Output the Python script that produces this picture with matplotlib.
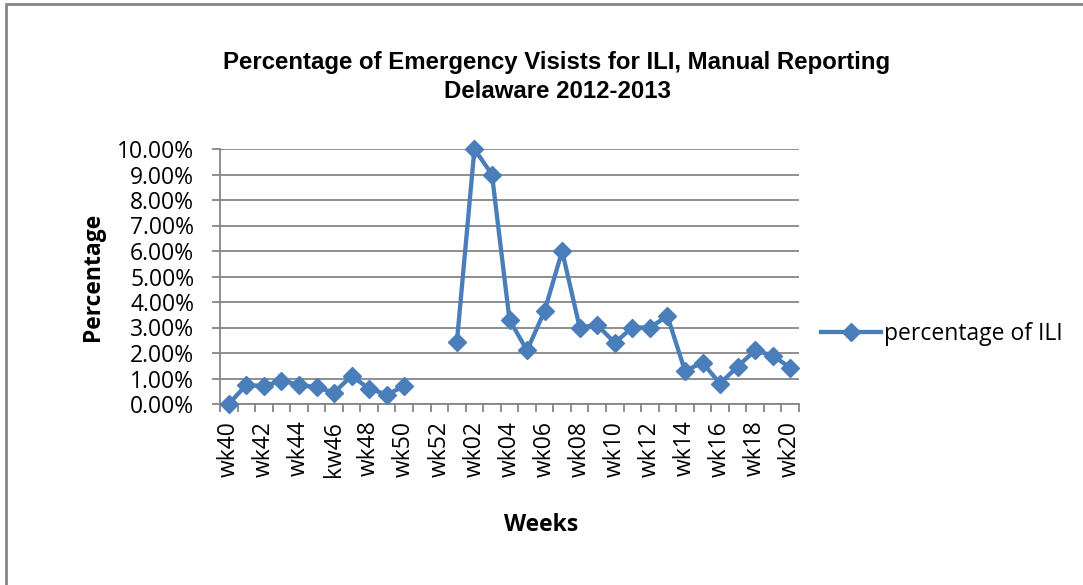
import numpy as np
import matplotlib
matplotlib.use("Agg")
import matplotlib.pyplot as plt
from matplotlib.patches import Rectangle

weeks = ["wk40", "wk41", "wk42", "wk43", "wk44", "wk45", "kw46", "wk47", "wk48", "wk49",
         "wk50", "wk51", "wk52", "wk01", "wk02", "wk03", "wk04", "wk05", "wk06", "wk07",
         "wk08", "wk09", "wk10", "wk11", "wk12", "wk13", "wk14", "wk15", "wk16", "wk17",
         "wk18", "wk19", "wk20"]
ili_pct = [0.0, 0.75, 0.7, 0.92, 0.75, 0.65, 0.45, 1.1, 0.6, 0.37,
           0.7, np.nan, np.nan, 2.42, 10.0, 9.0, 3.3, 2.1, 3.65, 6.0,
           3.0, 3.1, 2.4, 3.0, 3.0, 3.45, 1.3, 1.62, 0.8, 1.47,
           2.1, 1.9, 1.42]
y_ticks = [0, 1, 2, 3, 4, 5, 6, 7, 8, 9, 10]

W, H = 1083, 585
fig = plt.figure(figsize=(W / 100, H / 100), dpi=100)
fig.patches.append(Rectangle((6 / W, -0.05), 1.2, (1 - 4 / H) + 0.05, transform=fig.transFigure,
                             fill=False, edgecolor="#868686", linewidth=2))

ax_l, ax_r, ax_t, ax_b = 220, 799, 149, 404
ax = fig.add_axes([ax_l / W, 1 - ax_b / H, (ax_r - ax_l) / W, (ax_b - ax_t) / H])
x = np.arange(len(weeks))
grid_c = "#868686"
line_c = "#4A7EBB"
FS = 16.5
FONT = "Open Sans"

ax.plot(x, ili_pct, color=line_c, linewidth=3.1, marker="D", markersize=9,
        markeredgecolor=line_c, markerfacecolor=line_c, label="percentage of ILI",
        clip_on=False, zorder=3)

ax.set_xlim(-0.5, len(weeks) - 0.5)
ax.set_ylim(0, 10)
ax.set_yticks(y_ticks)
ax.set_yticklabels([f"{v:.2f}%" for v in y_ticks])
for v in y_ticks:
    ax.axhline(v, color=grid_c, linewidth=1.3, zorder=1)

ax.set_xticks(x[::2])
ax.set_xticklabels(weeks[::2], rotation=90)
ax.set_xticks(np.arange(len(weeks) + 1) - 0.5, minor=True)
ax.tick_params(axis="x", which="major", length=0, pad=12)
ax.tick_params(axis="x", which="minor", length=6, width=1.3, color=grid_c)
ax.tick_params(axis="y", length=6, width=1.3, color=grid_c, pad=12.5)

for lab in ax.get_xticklabels() + ax.get_yticklabels():
    lab.set_fontfamily(FONT)
    lab.set_fontsize(FS)
    lab.set_color("black")

for s in ["top", "right"]:
    ax.spines[s].set_visible(False)
for s in ["left", "bottom"]:
    ax.spines[s].set_color(grid_c)
    ax.spines[s].set_linewidth(1.3)

fig.text(93 / W, 1 - 277 / H, "Percentage", rotation=90, ha="center", va="center",
         fontfamily=FONT, fontweight="bold", fontsize=FS)
fig.text(541 / W, 1 - 525 / H, "Weeks", ha="center", va="center",
         fontfamily=FONT, fontweight="bold", fontsize=FS)

fig.text(557 / W, 1 - 63 / H, "Percentage of Emergency Visists for ILI, Manual Reporting",
         ha="center", va="center", fontfamily="Liberation Sans", fontweight="bold", fontsize=17.3)
fig.text(557 / W, 1 - 91 / H, "Delaware 2012-2013",
         ha="center", va="center", fontfamily="Liberation Sans", fontweight="bold", fontsize=17.3)

leg = fig.legend(loc="center left", bbox_to_anchor=(812 / W, 1 - 334 / H), frameon=False,
                 prop={"family": FONT, "size": FS}, handlelength=2.6, handletextpad=0.15,
                 borderaxespad=0)

fig.savefig("out.png", dpi=100)
